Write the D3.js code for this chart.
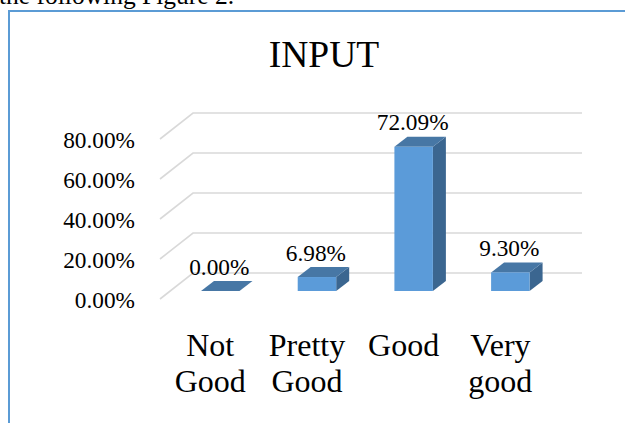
<!DOCTYPE html>
<html><head><meta charset="utf-8">
<script src="https://cdn.jsdelivr.net/npm/d3@7"></script>
<style>html,body{margin:0;padding:0;background:#fff}svg{display:block}text{font-family:"Liberation Serif",serif;fill:#000}</style>
</head><body><svg id="c" width="625" height="423"></svg>
<script>
const categories=[["Not","Good"],["Pretty","Good"],["Good"],["Very","good"]];
const values=[0,6.98,72.09,9.30];
const valueLabels=["0.00%","6.98%","72.09%","9.30%"];
const ticks=[0,20,40,60,80];
const titleText="INPUT";
const captionText="the following Figure 2.";

const svg=d3.select("#c");
const depth={x:33,y:26}, barDepth={x:13,y:10};
const y=d3.scaleLinear().domain([0,80]).range([299,139]);
const x=d3.scaleBand().domain(d3.range(4)).range([172,558.6]).paddingInner(0.602).paddingOuter(0.3);
const barY=v=>y(v)-8;

svg.append("text").attr("x",-1).attr("y",4).attr("font-size",25.5).text(captionText);
svg.append("path").attr("d","M9,423V11H625").attr("fill","none").attr("stroke","#5b9bd5").attr("stroke-width",2);
svg.append("text").attr("x",324).attr("y",66.5).attr("text-anchor","middle").attr("font-size",37.5).text(titleText);

const grid=svg.append("g").attr("fill","none").attr("stroke","#d9d9d9").attr("stroke-width",1.6);
grid.selectAll("path").data(ticks).join("path")
 .attr("d",t=>d3.line()([[160,y(t)],[160+depth.x,y(t)-depth.y],[582,y(t)-depth.y]]));

const ax=svg.append("g").attr("transform","translate(135,0)").call(d3.axisLeft(y).tickValues(ticks).tickSize(0).tickPadding(0).tickFormat(d=>d3.format(".2f")(d)+"%"));
ax.select(".domain").remove();
ax.selectAll("text").attr("font-size",23.3).attr("font-family","Liberation Serif").attr("fill","#000").attr("dy","0.36em");

const bars=svg.append("g").selectAll("g").data(values).join("g");
const pts=a=>a.map(p=>p.join(",")).join(" ");
bars.append("polygon").attr("fill","#3b6690").attr("points",(v,i)=>{const l=x(i)+x.bandwidth();return pts([[l,barY(0)],[l+barDepth.x,barY(0)-barDepth.y],[l+barDepth.x,barY(v)-barDepth.y],[l,barY(v)]]);});
bars.append("polygon").attr("fill","#4777a5").attr("points",(v,i)=>{const l=x(i),w=x.bandwidth();return pts([[l,barY(v)],[l+barDepth.x,barY(v)-barDepth.y],[l+w+barDepth.x,barY(v)-barDepth.y],[l+w,barY(v)]]);});
bars.append("rect").attr("fill","#5b9bd9").attr("x",(v,i)=>x(i)).attr("width",x.bandwidth()).attr("y",v=>barY(v)).attr("height",v=>barY(0)-barY(v));

bars.append("text").attr("font-size",23.3).attr("text-anchor","middle").attr("x",(v,i)=>x(i)+x.bandwidth()/2-1).attr("y",v=>barY(v)-16.5).text((v,i)=>valueLabels[i]);

const cats=svg.append("g").selectAll("text").data(categories).join("text")
 .attr("font-size",32).attr("text-anchor","middle").attr("x",(c,i)=>x(i)+x.bandwidth()/2-10);
cats.selectAll("tspan").data(c=>c).join("tspan").attr("x",function(){return d3.select(this.parentNode).attr("x");}).attr("y",(t,j)=>356+j*36).text(t=>t);
</script></body></html>
